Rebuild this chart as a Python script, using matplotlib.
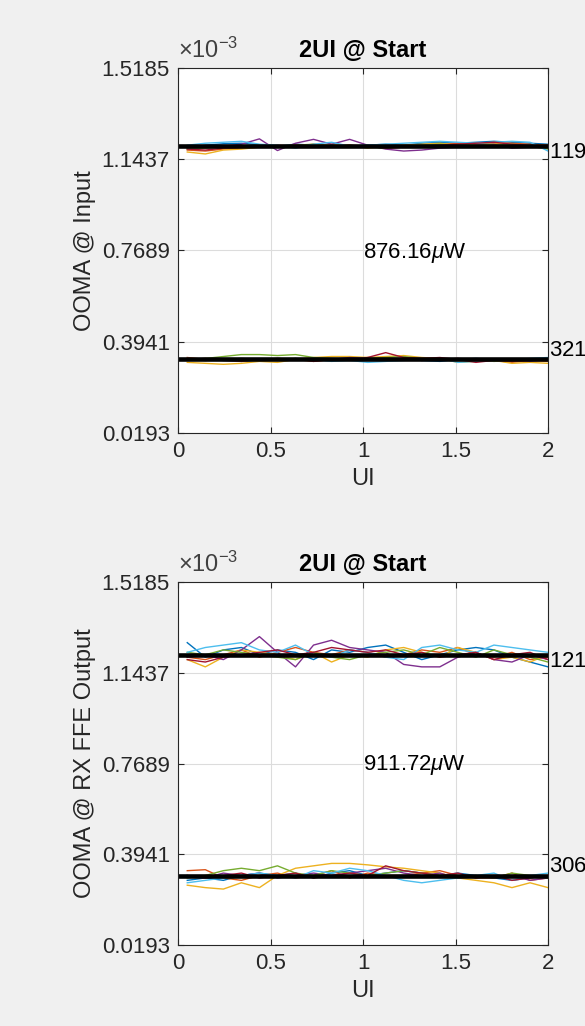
import matplotlib.pyplot as plt
import numpy as np
from matplotlib.ticker import FuncFormatter

plt.rcParams['font.family'] = ['Liberation Sans', 'DejaVu Sans']
plt.rcParams['mathtext.fontset'] = 'custom'
plt.rcParams['mathtext.rm'] = 'Liberation Sans'
plt.rcParams['mathtext.it'] = 'Liberation Sans:italic'

# MATLAB default line colour order
colors = ['#0072BD', '#D95319', '#EDB120', '#7E2F8E',
          '#77AC30', '#4DBEEE', '#A2142F']

ui = np.linspace(0.05, 2.0, 21)

y_ticks = [0.0193e-3, 0.3941e-3, 0.7689e-3, 1.1437e-3, 1.5185e-3]
x_ticks = [0, 0.5, 1, 1.5, 2]

titles = ['2UI @ Start', '2UI @ Start']
ylabels = ['OOMA @ Input', 'OOMA @ RX FFE Output']

# mean levels per panel, in uW
high_levels = [1197.5, 1218.2]
low_levels = [321.34, 306.48]

# per-trace deviation from the mean level, in uW
input_high = [
    [-8, 4, 10, 12, 6, 0, 8, 4, -4, 0, 4, 8, 4, 12, 16, 12, 16, 20, 16, 12, 8],
    [-16, -20, -12, -8, -4, 4, 0, 8, 4, -4, 0, -8, -4, 4, 8, 12, 8, 16, 12, 8, 4],
    [-24, -32, -16, -12, -4, 0, 4, 0, 8, 4, -8, 0, 4, 8, 12, 4, 8, 12, 8, 4, -8],
    [-4, -8, 0, 8, 30, -18, 12, 28, 8, 28, 4, -12, -20, -16, -8, -4, 4, 8, -8, -4, -4],
    [-12, -8, -4, 0, 4, 0, 4, 8, 0, 4, -4, -8, 0, 4, 8, 4, 12, 4, 8, 0, -12],
    [4, 12, 16, 20, 8, 4, -8, 8, 16, 0, 4, 8, 12, 16, 20, 16, 12, 16, 20, 16, -20],
    [-12, -16, -8, -4, 0, -4, 4, 0, -4, 4, 0, -8, -4, 0, 4, 8, 12, 16, 8, 4, -4],
]
input_low = [
    [0, -4, 0, -8, -4, 0, 0, 4, -4, 0, 4, -4, 0, -4, -8, 0, 4, 0, -4, 0, 4],
    [8, 0, -4, 0, -4, 4, 0, -8, 0, 4, 8, 4, 0, -4, 0, 4, -8, -4, -12, -4, -8],
    [-12, -16, -20, -16, -8, -12, 0, 8, 12, 12, 8, 12, 16, 8, 4, -12, -8, -4, -16, -12, -16],
    [0, -4, 0, 4, 0, 4, 0, -4, 0, 8, 4, 0, 4, -4, 0, 4, 0, -4, 0, -8, 0],
    [0, 4, 12, 20, 20, 16, 20, 8, 4, 0, 4, 8, 12, 4, 0, -4, 0, -8, -4, 0, -4],
    [4, 0, -4, -8, 0, -4, 4, 0, -8, -4, -12, -8, -4, 0, 4, -12, -8, -4, 0, 4, 8],
    [0, 4, -4, -8, 0, -4, 4, -8, 0, -4, 8, 28, 8, 4, 8, 0, -12, -4, -8, -4, 0],
]
ffe_high = [
    [50, -10, 20, 30, 0, 20, 10, -20, 20, 10, 30, 40, 10, -20, 0, 20, 30, 20, -10, -30, -50],
    [-10, -20, 0, 20, -10, 10, 30, 10, 0, 20, 10, -10, 0, 20, 10, 30, 0, -10, 10, -20, -10],
    [-20, -50, -10, 20, 10, 0, -20, 10, -30, 0, -10, 20, 30, 10, -10, 30, 10, -20, -10, -30, 0],
    [-10, 0, -20, 20, 75, 10, -50, 40, 60, 30, 20, 10, -40, -50, -50, -10, 10, -20, -30, 0, -20],
    [10, 0, 20, 10, 0, -10, -20, 10, -10, -20, 0, 10, 20, 0, 30, 10, -10, 20, 0, -10, -30],
    [10, 30, 40, 50, 20, 10, 40, 0, -10, 20, 10, -10, -20, 30, 40, 20, 10, 40, 30, 20, 10],
    [-20, -30, -10, 0, 10, 20, 0, 10, 30, 20, 10, 20, 0, 10, -10, 0, 10, -20, 0, 10, -20],
]
ffe_low = [
    [-20, -10, -20, 0, 10, 0, 10, -10, 10, 20, 0, 10, 20, 10, 0, 10, 0, -10, -20, -10, 0],
    [20, 24, -10, -20, 0, 10, -10, 0, 20, -10, 10, 0, 0, 10, 20, 0, -10, -10, 10, -20, -10],
    [-40, -50, -56, -30, -50, 0, 30, 40, 50, 50, 44, 36, 30, 20, 10, -10, -20, -30, -50, -30, -50],
    [0, -10, 10, 0, 10, -10, 0, 10, 0, 10, 20, 30, 10, 0, 10, -10, 0, -10, 0, -20, -10],
    [-10, 0, 20, 30, 20, 40, 10, 0, 20, 10, 0, 10, 20, 10, 0, -10, 0, -10, 10, 0, -10],
    [-30, -20, -10, 0, 10, 0, -10, 20, 10, 30, 20, 0, -20, -30, -20, -10, 0, 10, -20, 0, 10],
    [0, -10, 0, 10, -10, 0, 10, -10, 0, 10, 0, 40, 20, 10, 0, 10, -10, 0, -20, -10, 0],
]
high_traces = [input_high, ffe_high]
low_traces = [input_low, ffe_low]

fig = plt.figure(figsize=(5.85, 10.26), dpi=100, facecolor='#f0f0f0')
axes = [fig.add_axes([0.3043, 0.578, 0.6325, 0.3557]),
        fig.add_axes([0.3043, 0.0789, 0.6325, 0.3538])]

for k, ax in enumerate(axes):
    hi = high_levels[k]
    lo = low_levels[k]
    for tr, c in zip(high_traces[k], colors):
        ax.plot(ui, (hi + np.array(tr)) * 1e-6, color=c, lw=1.0)
    for tr, c in zip(low_traces[k], colors):
        ax.plot(ui, (lo + np.array(tr)) * 1e-6, color=c, lw=1.0)
    ax.plot([0, 2], [hi * 1e-6, hi * 1e-6], color='black', lw=3.3)
    ax.plot([0, 2], [lo * 1e-6, lo * 1e-6], color='black', lw=3.3)

    # level labels just outside the right edge
    ax.annotate('%.2f$\\mu$W' % hi, xy=(2.0, hi * 1e-6), xytext=(1, -5),
                textcoords='offset points', ha='left', va='center',
                fontsize=16, annotation_clip=False)
    ax.annotate('%.2f$\\mu$W' % lo, xy=(2.0, lo * 1e-6), xytext=(1, 6),
                textcoords='offset points', ha='left', va='center',
                fontsize=16, annotation_clip=False)
    ax.text(1.0, (hi + lo) / 2 * 1e-6, '%.2f$\\mu$W' % (hi - lo),
            ha='left', va='center', fontsize=16)

    ax.set_xlim(0, 2)
    ax.set_ylim(y_ticks[0], y_ticks[-1])
    ax.set_xticks(x_ticks)
    ax.set_xticklabels(['0', '0.5', '1', '1.5', '2'])
    ax.set_yticks(y_ticks)
    ax.yaxis.set_major_formatter(FuncFormatter(lambda v, p: '%.4f' % (v * 1e3)))
    ax.tick_params(direction='in', length=4, width=0.8, labelsize=16,
                   colors='#262626', top=True, right=True, pad=6)
    ax.grid(True, color='#dcdcdc', lw=0.8)
    ax.set_axisbelow(True)
    for s in ax.spines.values():
        s.set_color('#262626')
        s.set_linewidth(0.8)

    ax.set_title(titles[k], fontsize=17, fontweight='bold', pad=8)
    ax.set_xlabel('UI', fontsize=17, color='#262626')
    ax.set_ylabel(ylabels[k], fontsize=17, color='#262626')
    ax.text(0.0, 1.015, r'$\times10^{-3}$', transform=ax.transAxes,
            fontsize=17, color='#404040', ha='left', va='bottom')

fig.savefig('out.png', dpi=100, facecolor=fig.get_facecolor())
